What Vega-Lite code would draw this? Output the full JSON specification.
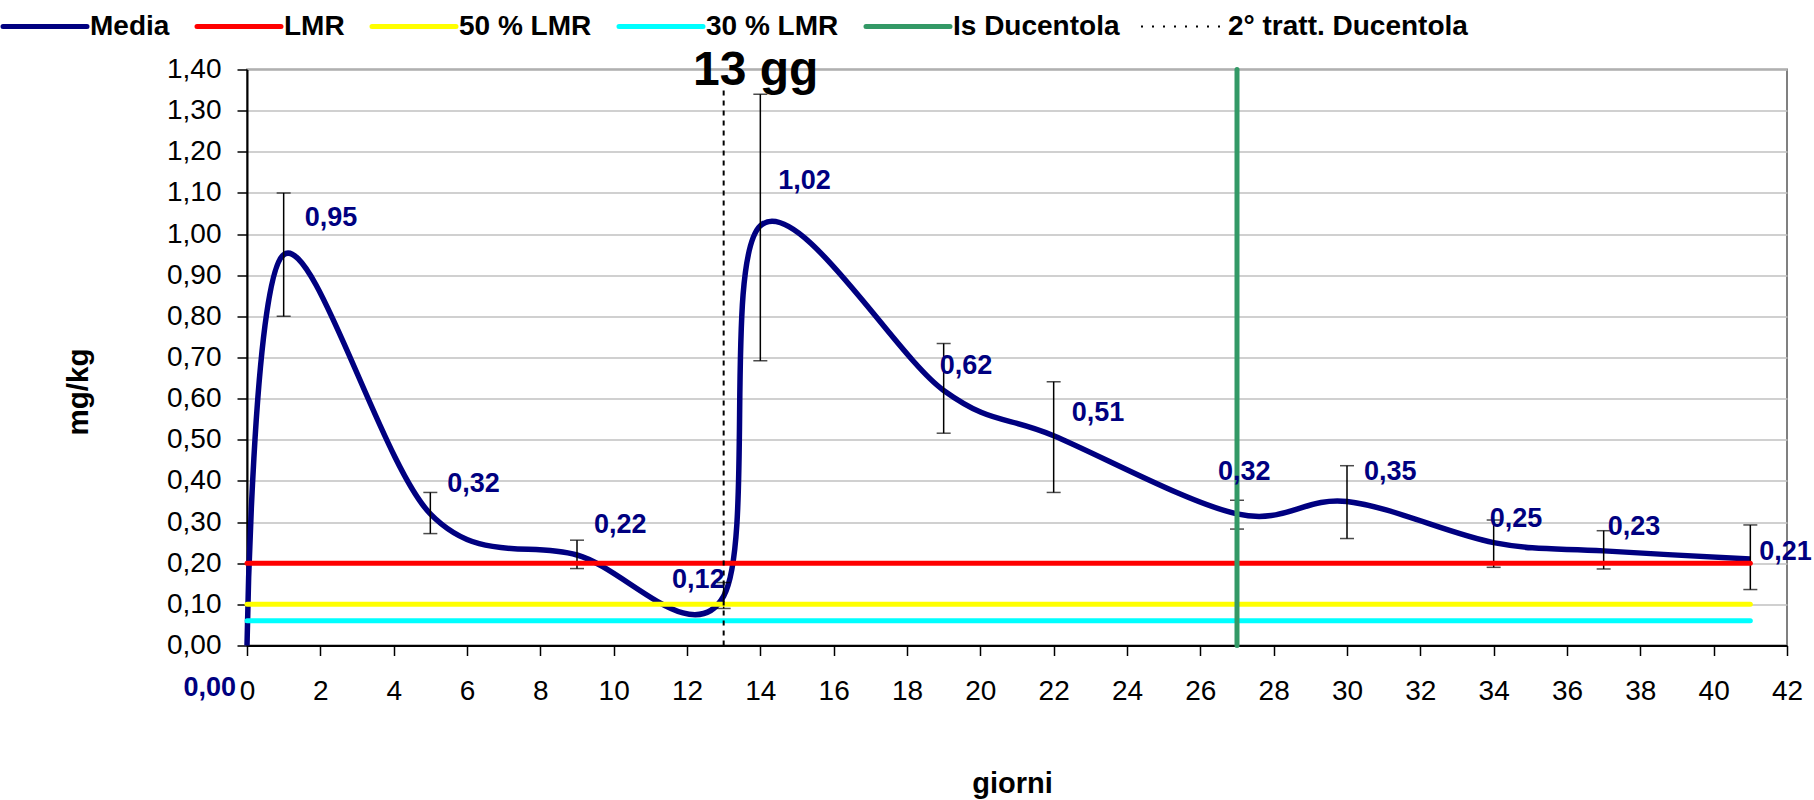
{
  "$schema": "https://vega.github.io/schema/vega-lite/v6.json",
  "width": 1540,
  "height": 576,
  "autosize": {"type": "none"},
  "padding": {"left": 247, "top": 69.5, "right": 27, "bottom": 154.5},
  "background": "white",
  "config": {
    "font": "Liberation Sans",
    "locale": {"number": {"decimal": ",", "thousands": ".", "grouping": [3], "currency": ["€", ""]}},
    "view": {"stroke": "#808080", "strokeWidth": 2}
  },
  "datasets": {
    "media": [
      {"series": "Media", "giorni": 0, "valore": 0.0, "lo": null, "hi": null},
      {"series": "Media", "giorni": 1, "valore": 0.95, "lo": 0.80, "hi": 1.10},
      {"series": "Media", "giorni": 5, "valore": 0.32, "lo": 0.272, "hi": 0.372},
      {"series": "Media", "giorni": 9, "valore": 0.22, "lo": 0.187, "hi": 0.256},
      {"series": "Media", "giorni": 13, "valore": 0.12, "lo": 0.09, "hi": 0.153},
      {"series": "Media", "giorni": 14, "valore": 1.02, "lo": 0.692, "hi": 1.34},
      {"series": "Media", "giorni": 19, "valore": 0.62, "lo": 0.516, "hi": 0.734},
      {"series": "Media", "giorni": 22, "valore": 0.51, "lo": 0.372, "hi": 0.641},
      {"series": "Media", "giorni": 27, "valore": 0.32, "lo": 0.283, "hi": 0.353},
      {"series": "Media", "giorni": 30, "valore": 0.35, "lo": 0.26, "hi": 0.437},
      {"series": "Media", "giorni": 34, "valore": 0.25, "lo": 0.19, "hi": 0.305},
      {"series": "Media", "giorni": 37, "valore": 0.23, "lo": 0.186, "hi": 0.279},
      {"series": "Media", "giorni": 41, "valore": 0.21, "lo": 0.136, "hi": 0.293}
    ],
    "rif": [
      {"series": "LMR", "giorni": 0, "valore": 0.2},
      {"series": "LMR", "giorni": 41, "valore": 0.2},
      {"series": "50 % LMR", "giorni": 0, "valore": 0.1},
      {"series": "50 % LMR", "giorni": 41, "valore": 0.1},
      {"series": "30 % LMR", "giorni": 0, "valore": 0.06},
      {"series": "30 % LMR", "giorni": 41, "valore": 0.06},
      {"series": "Is Ducentola", "giorni": 27, "valore": 0},
      {"series": "Is Ducentola", "giorni": 27, "valore": 1.4}
    ],
    "tratt": [
      {"series": "2° tratt. Ducentola", "giorni": 13, "valore": 0},
      {"series": "2° tratt. Ducentola", "giorni": 13, "valore": 1.35}
    ],
    "nota": [
      {"giorni": 13, "valore": 1.4, "testo": "13 gg"}
    ]
  },
  "encoding": {
    "x": {
      "field": "giorni", "type": "quantitative",
      "scale": {"domain": [0, 42], "nice": false, "zero": false},
      "axis": {
        "values": [0,2,4,6,8,10,12,14,16,18,20,22,24,26,28,30,32,34,36,38,40,42],
        "grid": false, "title": "giorni",
        "labelFlush": false, "labelOverlap": false,
        "labelFontSize": 28, "labelColor": "black", "labelPadding": 22,
        "tickSize": 10, "tickColor": "black", "tickWidth": 1.5,
        "domainColor": "black", "domainWidth": 2,
        "titleFontSize": 29, "titleFontWeight": "bold", "titleColor": "black",
        "titleX": 765, "titleY": 147, "titleBaseline": "alphabetic", "titleAlign": "center"
      }
    },
    "y": {
      "field": "valore", "type": "quantitative",
      "scale": {"domain": [0, 1.4], "nice": false},
      "axis": {
        "values": [0,0.1,0.2,0.3,0.4,0.5,0.6,0.7,0.8,0.9,1.0,1.1,1.2,1.3,1.4],
        "format": ".2f", "title": "mg/kg",
        "grid": true, "gridColor": "#c0c0c0", "gridWidth": 1.5,
        "labelOverlap": false, "labelFontSize": 28, "labelColor": "black", "labelPadding": 16,
        "tickSize": 10, "tickColor": "black", "tickWidth": 1.5,
        "domainColor": "black", "domainWidth": 2,
        "titleFontSize": 29.5, "titleFontWeight": "bold", "titleColor": "black",
        "titleX": -169, "titleY": 322, "titleAngle": -90, "titleAlign": "center", "titleBaseline": "middle"
      }
    }
  },
  "layer": [
    {
      "data": {"name": "media"},
      "mark": {"type": "line", "interpolate": "cardinal", "strokeWidth": 5.5},
      "encoding": {
        "color": {
          "field": "series", "type": "nominal",
          "scale": {
            "domain": ["Media", "LMR", "50 % LMR", "30 % LMR", "Is Ducentola", "2° tratt. Ducentola"],
            "range": ["#000080", "#FF0000", "#FFFF00", "#00FFFF", "#339966", "#000000"]
          },
          "legend": {
            "title": null,
            "orient": "none",
            "legendX": -216,
            "legendY": -57,
            "direction": "horizontal",
            "columns": 6,
            "padding": 0,
            "symbolType": "stroke",
            "symbolSize": 7056,
            "symbolStrokeWidth": 5,
            "labelFont": "Liberation Sans",
            "labelFontWeight": "bold",
            "labelFontSize": 28,
            "labelColor": "black",
            "labelOffset": 31,
            "labelLimit": 500,
            "columnPadding": 17,
            "encode": {
              "symbols": {
                "update": {
                  "strokeDash": {"signal": "datum.value === '2° tratt. Ducentola' ? [2, 9] : [1, 0]"},
                  "strokeWidth": {"signal": "datum.value === '2° tratt. Ducentola' ? 2 : 5"},
                  "strokeCap": {"signal": "datum.value === '2° tratt. Ducentola' ? 'butt' : 'round'"}
                }
              }
            }
          }
        }
      }
    },
    {
      "data": {"name": "media"},
      "mark": {"type": "rule", "color": "black", "strokeWidth": 1.5},
      "encoding": {
        "y": {"field": "lo", "type": "quantitative"},
        "y2": {"field": "hi"}
      }
    },
    {
      "data": {"name": "media"},
      "mark": {"type": "tick", "orient": "horizontal", "color": "black", "size": 14, "thickness": 1.5},
      "encoding": {"y": {"field": "lo", "type": "quantitative"}}
    },
    {
      "data": {"name": "media"},
      "mark": {"type": "tick", "orient": "horizontal", "color": "black", "size": 14, "thickness": 1.5},
      "encoding": {"y": {"field": "hi", "type": "quantitative"}}
    },
    {
      "data": {"name": "rif"},
      "mark": {"type": "line", "strokeWidth": 5, "strokeCap": "round"},
      "encoding": {
        "color": {"field": "series", "type": "nominal"},
        "detail": {"field": "series"}
      }
    },
    {
      "data": {"name": "tratt"},
      "mark": {"type": "line", "strokeWidth": 2, "strokeDash": [5, 5]},
      "encoding": {
        "color": {"field": "series", "type": "nominal"}
      }
    },
    {
      "data": {"name": "media"},
      "transform": [{"filter": {"field": "giorni", "oneOf": [0]}}],
      "mark": {"type": "text", "align": "right", "baseline": "middle", "dx": -11, "dy": 42, "fontWeight": "bold", "fontSize": 27, "color": "#000080"},
      "encoding": {"text": {"field": "valore", "type": "quantitative", "format": ".2f"}}
    },
    {
      "data": {"name": "media"},
      "transform": [{"filter": {"field": "giorni", "oneOf": [1]}}],
      "mark": {"type": "text", "align": "left", "baseline": "middle", "dx": 21, "dy": -37, "fontWeight": "bold", "fontSize": 27, "color": "#000080"},
      "encoding": {"text": {"field": "valore", "type": "quantitative", "format": ".2f"}}
    },
    {
      "data": {"name": "media"},
      "transform": [{"filter": {"field": "giorni", "oneOf": [5, 9, 30]}}],
      "mark": {"type": "text", "align": "left", "baseline": "middle", "dx": 17, "dy": -30, "fontWeight": "bold", "fontSize": 27, "color": "#000080"},
      "encoding": {"text": {"field": "valore", "type": "quantitative", "format": ".2f"}}
    },
    {
      "data": {"name": "media"},
      "transform": [{"filter": {"field": "giorni", "oneOf": [13]}}],
      "mark": {"type": "text", "align": "right", "baseline": "middle", "dx": 1, "dy": -16, "fontWeight": "bold", "fontSize": 27, "color": "#000080"},
      "encoding": {"text": {"field": "valore", "type": "quantitative", "format": ".2f"}}
    },
    {
      "data": {"name": "media"},
      "transform": [{"filter": {"field": "giorni", "oneOf": [14]}}],
      "mark": {"type": "text", "align": "left", "baseline": "middle", "dx": 18, "dy": -45, "fontWeight": "bold", "fontSize": 27, "color": "#000080"},
      "encoding": {"text": {"field": "valore", "type": "quantitative", "format": ".2f"}}
    },
    {
      "data": {"name": "media"},
      "transform": [{"filter": {"field": "giorni", "oneOf": [19, 34]}}],
      "mark": {"type": "text", "align": "left", "baseline": "middle", "dx": -4, "dy": -24, "fontWeight": "bold", "fontSize": 27, "color": "#000080"},
      "encoding": {"text": {"field": "valore", "type": "quantitative", "format": ".2f"}}
    },
    {
      "data": {"name": "media"},
      "transform": [{"filter": {"field": "giorni", "oneOf": [37]}}],
      "mark": {"type": "text", "align": "left", "baseline": "middle", "dx": 4, "dy": -24, "fontWeight": "bold", "fontSize": 27, "color": "#000080"},
      "encoding": {"text": {"field": "valore", "type": "quantitative", "format": ".2f"}}
    },
    {
      "data": {"name": "media"},
      "transform": [{"filter": {"field": "giorni", "oneOf": [22]}}],
      "mark": {"type": "text", "align": "left", "baseline": "middle", "dx": 18, "dy": -23, "fontWeight": "bold", "fontSize": 27, "color": "#000080"},
      "encoding": {"text": {"field": "valore", "type": "quantitative", "format": ".2f"}}
    },
    {
      "data": {"name": "media"},
      "transform": [{"filter": {"field": "giorni", "oneOf": [27]}}],
      "mark": {"type": "text", "align": "left", "baseline": "middle", "dx": -19, "dy": -42, "fontWeight": "bold", "fontSize": 27, "color": "#000080"},
      "encoding": {"text": {"field": "valore", "type": "quantitative", "format": ".2f"}}
    },
    {
      "data": {"name": "media"},
      "transform": [{"filter": {"field": "giorni", "oneOf": [41]}}],
      "mark": {"type": "text", "align": "left", "baseline": "middle", "dx": 9, "dy": -7, "fontWeight": "bold", "fontSize": 27, "color": "#000080"},
      "encoding": {"text": {"field": "valore", "type": "quantitative", "format": ".2f"}}
    },
    {
      "data": {"name": "nota"},
      "mark": {"type": "text", "align": "center", "baseline": "alphabetic", "dx": 32, "dy": 15.5, "fontWeight": "bold", "fontSize": 48, "color": "black"},
      "encoding": {"text": {"field": "testo", "type": "nominal"}}
    }
  ]
}
